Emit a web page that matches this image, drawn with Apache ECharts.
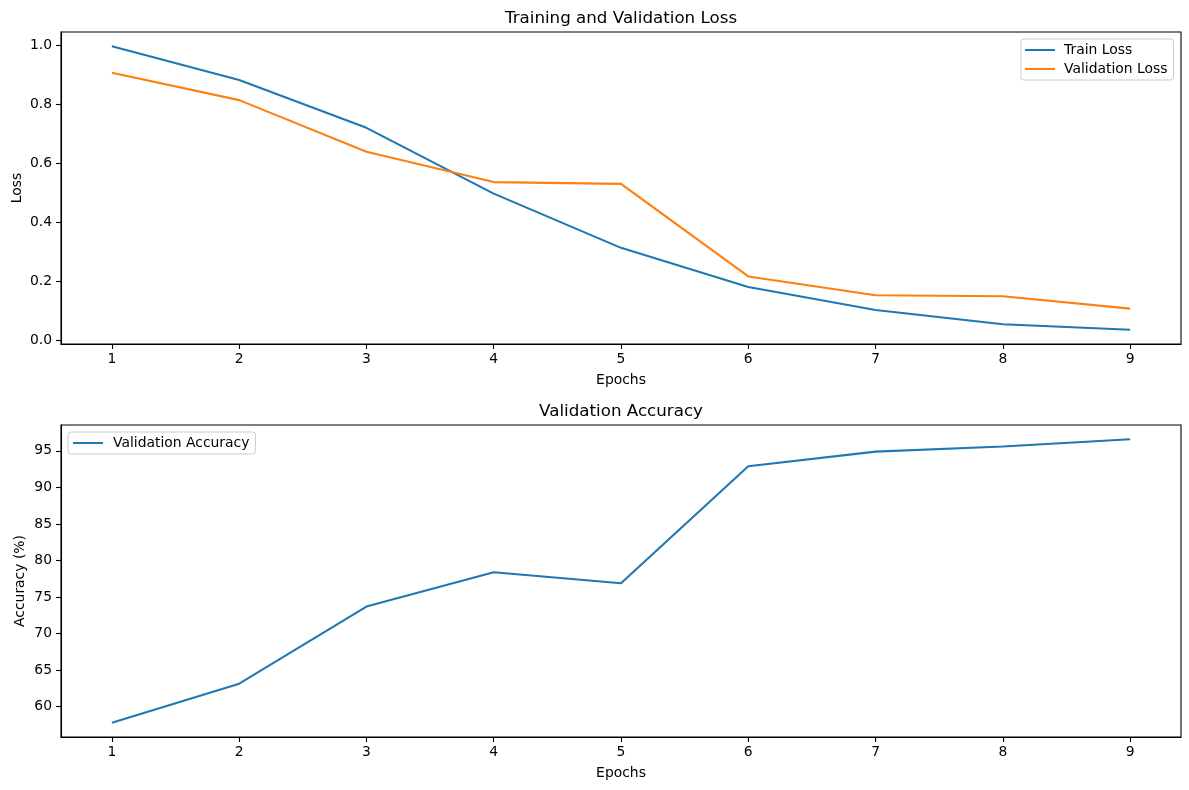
<!DOCTYPE html>
<html>
<head>
<meta charset="utf-8">
<script src="https://cdn.jsdelivr.net/npm/echarts@6/dist/echarts.min.js"></script>
<style>html,body{margin:0;padding:0;background:#fff}#c{width:1189px;height:790px}</style>
</head>
<body>
<div id="c"></div>
<script>
const epochs = [1, 2, 3, 4, 5, 6, 7, 8, 9];
const trainLoss = [0.997, 0.882, 0.720, 0.497, 0.313, 0.180, 0.102, 0.054, 0.035];
const valLoss = [0.907, 0.814, 0.639, 0.536, 0.530, 0.216, 0.152, 0.149, 0.107];
const valAcc = [57.8, 63.15, 73.7, 78.4, 76.9, 92.9, 94.9, 95.6, 96.6];
const lossTicks = [0.0, 0.2, 0.4, 0.6, 0.8, 1.0];
const accTicks = [60, 65, 70, 75, 80, 85, 90, 95];

function lims(arrs) {
  const all = [].concat(...arrs);
  const lo = Math.min(...all), hi = Math.max(...all), r = hi - lo;
  return [lo - 0.05 * r, hi + 0.05 * r];
}
const lossLim = lims([trainLoss, valLoss]);
const accLim = lims([valAcc]);
const xr = epochs[epochs.length - 1] - epochs[0];
const xLim = [epochs[0] - 0.05 * xr, epochs[epochs.length - 1] + 0.05 * xr];
const pairs = (ys) => epochs.map((e, i) => [e, ys[i]]);

const FONT = 'DejaVu Sans';
const black = '#000';
function xAxis(gi) {
  return {
    type: 'value', gridIndex: gi, min: xLim[0], max: xLim[1],
    name: 'Epochs', nameLocation: 'middle', nameGap: 29, nameMoveOverlap: false,
    nameTextStyle: { color: black, fontFamily: FONT, fontSize: 13.9 },
    axisLine: { show: true, onZero: false, lineStyle: { color: black, width: 1.1 } },
    axisTick: { show: true, length: 5, customValues: epochs, lineStyle: { color: black, width: 1.1 } },
    axisLabel: { customValues: epochs, margin: 8, color: black, fontFamily: FONT, fontSize: 13.9 },
    splitLine: { show: false }
  };
}
function yAxis(gi, lim, ticks, name, gap, fmt) {
  return {
    type: 'value', gridIndex: gi, min: lim[0], max: lim[1],
    name: name, nameLocation: 'middle', nameGap: gap, nameMoveOverlap: false,
    nameTextStyle: { color: black, fontFamily: FONT, fontSize: 13.9 },
    axisLine: { show: true, onZero: false, lineStyle: { color: black, width: 1.1 } },
    axisTick: { show: true, length: 5, customValues: ticks, lineStyle: { color: black, width: 1.1 } },
    axisLabel: { customValues: ticks, margin: 9, color: black, fontFamily: FONT, fontSize: 13.9, formatter: fmt },
    splitLine: { show: false }
  };
}
const chart = echarts.init(document.getElementById('c'), null, { renderer: 'canvas' });
chart.setOption({
  animation: false,
  backgroundColor: '#fff',
  textStyle: { fontFamily: FONT },
  title: [
    { text: 'Training and Validation Loss', left: 621, top: 10, textAlign: 'center', padding: 0,
      textStyle: { color: black, fontFamily: FONT, fontSize: 16.7, fontWeight: 'normal' } },
    { text: 'Validation Accuracy', left: 621, top: 403, textAlign: 'center', padding: 0,
      textStyle: { color: black, fontFamily: FONT, fontSize: 16.7, fontWeight: 'normal' } }
  ],
  grid: [
    { left: 61, top: 32, width: 1120, height: 312, show: true, borderColor: black, borderWidth: 1.1,
      backgroundColor: 'transparent', containLabel: false, outerBoundsMode: 'none' },
    { left: 61, top: 425, width: 1120, height: 312, show: true, borderColor: black, borderWidth: 1.1,
      backgroundColor: 'transparent', containLabel: false, outerBoundsMode: 'none' }
  ],
  legend: [
    { data: ['Train Loss', 'Validation Loss'], orient: 'vertical', left: 1021, top: 39,
      padding: [4, 6, 4, 4], itemGap: 5, itemWidth: 30, itemHeight: 2, icon: 'rect',
      borderColor: '#cccccc', borderWidth: 1, borderRadius: 3, backgroundColor: 'rgba(255,255,255,0.8)',
      textStyle: { color: black, fontFamily: FONT, fontSize: 13.9, padding: [0, 0, 0, 4] } },
    { data: ['Validation Accuracy'], orient: 'vertical', left: 68, top: 432,
      padding: [4, 6, 4, 5], itemWidth: 30, itemHeight: 2, icon: 'rect',
      borderColor: '#cccccc', borderWidth: 1, borderRadius: 3, backgroundColor: 'rgba(255,255,255,0.8)',
      textStyle: { color: black, fontFamily: FONT, fontSize: 13.9, padding: [0, 0, 0, 5] } }
  ],
  xAxis: [xAxis(0), xAxis(1)],
  yAxis: [
    yAxis(0, lossLim, lossTicks, 'Loss', 37, v => v.toFixed(1)),
    yAxis(1, accLim, accTicks, 'Accuracy (%)', 34, v => String(Math.round(v)))
  ],
  series: [
    { name: 'Train Loss', type: 'line', xAxisIndex: 0, yAxisIndex: 0, data: pairs(trainLoss),
      symbol: 'none', color: '#1f77b4', lineStyle: { width: 2.1, color: '#1f77b4' } },
    { name: 'Validation Loss', type: 'line', xAxisIndex: 0, yAxisIndex: 0, data: pairs(valLoss),
      symbol: 'none', color: '#ff7f0e', lineStyle: { width: 2.1, color: '#ff7f0e' } },
    { name: 'Validation Accuracy', type: 'line', xAxisIndex: 1, yAxisIndex: 1, data: pairs(valAcc),
      symbol: 'none', color: '#1f77b4', lineStyle: { width: 2.1, color: '#1f77b4' } }
  ]
});
</script>
</body>
</html>
